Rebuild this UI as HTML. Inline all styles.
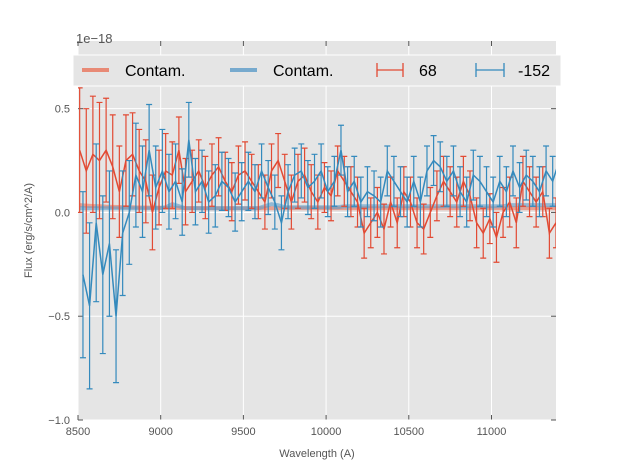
<!DOCTYPE html>
<html><head><meta charset="utf-8"><style>
body{margin:0;background:#fff;}
svg{display:block;font-family:"Liberation Sans",sans-serif;}
</style></head><body>
<svg id="chart" width="617" height="467"></svg>
<script>
const xStart = 8510, xStep = 40;
const redVals = [0.30,0.20,0.28,0.25,0.30,0.22,0.10,0.25,0.28,0.20,0.15,0.00,0.12,0.20,0.18,0.30,0.10,0.15,0.20,0.12,0.18,0.22,0.15,0.10,0.18,0.20,0.15,0.10,0.05,0.20,0.25,0.15,0.05,0.15,0.18,0.10,0.05,0.12,0.08,0.20,0.15,0.10,0.05,-0.10,-0.05,0.00,-0.08,0.05,-0.05,0.10,0.05,-0.05,-0.08,0.00,0.08,0.15,0.10,0.05,0.15,0.08,-0.05,-0.10,-0.03,-0.12,0.00,0.05,-0.05,0.15,0.10,0.05,0.10,-0.10,-0.05];
const redErr = [0.30,0.30,0.28,0.28,0.25,0.25,0.22,0.22,0.20,0.20,0.20,0.18,0.18,0.18,0.16,0.16,0.16,0.15,0.15,0.15,0.15,0.14,0.14,0.14,0.14,0.14,0.13,0.13,0.13,0.13,0.13,0.13,0.13,0.13,0.13,0.13,0.13,0.12,0.12,0.12,0.12,0.12,0.12,0.12,0.12,0.12,0.12,0.12,0.12,0.12,0.12,0.12,0.12,0.12,0.12,0.12,0.12,0.12,0.12,0.12,0.12,0.12,0.12,0.12,0.12,0.12,0.12,0.12,0.12,0.12,0.12,0.12,0.12];
const blueVals = [-0.30,-0.45,-0.05,-0.30,-0.15,-0.50,-0.10,0.00,0.18,0.10,0.30,0.12,0.20,0.10,0.15,0.05,0.35,0.10,0.15,0.05,0.08,0.15,0.12,0.05,0.10,0.15,0.10,0.20,0.12,0.05,-0.05,0.10,0.18,0.20,0.12,0.15,0.20,0.10,0.15,0.30,0.10,0.15,0.05,0.10,0.08,0.05,0.20,0.15,0.10,0.05,0.15,0.05,0.20,0.25,0.22,0.15,0.20,0.10,0.05,0.18,0.15,0.10,0.05,0.15,0.10,0.20,0.12,0.18,0.15,0.10,0.20,0.15,0.25];
const blueErr = [0.40,0.40,0.38,0.38,0.35,0.32,0.30,0.25,0.25,0.22,0.22,0.20,0.20,0.18,0.18,0.16,0.18,0.16,0.15,0.15,0.15,0.14,0.14,0.14,0.14,0.14,0.13,0.13,0.13,0.13,0.13,0.13,0.13,0.13,0.13,0.13,0.13,0.12,0.12,0.12,0.12,0.12,0.12,0.12,0.12,0.12,0.12,0.12,0.12,0.12,0.12,0.12,0.12,0.12,0.12,0.12,0.12,0.12,0.12,0.12,0.12,0.12,0.12,0.12,0.12,0.12,0.12,0.12,0.12,0.12,0.12,0.12,0.12];
const redContam = [0.035,0.033,0.031,0.030,0.028,0.027,0.026,0.025,0.025,0.024,0.024,0.023,0.023,0.022,0.022,0.022,0.021,0.021,0.021,0.020,0.020,0.020,0.020,0.020,0.020,0.020,0.020,0.020,0.020,0.020,0.020,0.020,0.020,0.020,0.020,0.020,0.020,0.020,0.020,0.020,0.020,0.020,0.020,0.020,0.020,0.020,0.020,0.020,0.020,0.020,0.020,0.020,0.020,0.020,0.020,0.020,0.020,0.020,0.020,0.020,0.020,0.020,0.020,0.020,0.020,0.020,0.020,0.020,0.020,0.020,0.020,0.020,0.020];
const blueContam = [0.020,0.020,0.020,0.020,0.020,0.020,0.020,0.020,0.020,0.020,0.020,0.020,0.020,0.025,0.040,0.030,0.020,0.020,0.020,0.020,0.020,0.020,0.020,0.020,0.020,0.020,0.020,0.020,0.030,0.040,0.035,0.025,0.025,0.025,0.025,0.025,0.025,0.025,0.025,0.025,0.030,0.030,0.030,0.030,0.030,0.030,0.030,0.030,0.030,0.030,0.030,0.030,0.030,0.030,0.030,0.030,0.030,0.030,0.030,0.030,0.030,0.030,0.030,0.030,0.030,0.035,0.035,0.035,0.035,0.035,0.035,0.035,0.035];
const xTicks = [8500,9000,9500,10000,10500,11000];
const yTicks = [-1.0,-0.5,0.0,0.5];

const NS="http://www.w3.org/2000/svg";
const svg=document.getElementById('chart');
const L=78,R=556,T=41,B=420;
const X0=8500,X1=11390,Y0=-1.0,Y1=0.826;
const sx=v=>L+(v-X0)/(X1-X0)*(R-L);
const sy=v=>B-(v-Y0)/(Y1-Y0)*(B-T);
function el(tag,attrs,parent){const e=document.createElementNS(NS,tag);for(const k in attrs)e.setAttribute(k,attrs[k]);(parent||svg).appendChild(e);return e;}

const bg=el('rect',{x:L,y:T,width:R-L,height:B-T,fill:'#e5e5e5'});


const clip=el('clipPath',{id:'cp'});el('rect',{x:L,y:T,width:R-L,height:B-T},clip);

xTicks.forEach(t=>{
  const g=el('line',{x1:sx(t),x2:sx(t),y1:T,y2:B,stroke:'#fff','stroke-width':1});
  
  
  el('line',{x1:sx(t),x2:sx(t),y1:B,y2:B-5,stroke:'#555'});
  el('line',{x1:sx(t),x2:sx(t),y1:T,y2:T+5,stroke:'#555'});
  const tx=el('text',{x:sx(t),y:B+15,'text-anchor':'middle','font-size':11,fill:'#555'});
  tx.textContent=t;
  
  
});
yTicks.forEach(t=>{
  const g=el('line',{x1:L,x2:R,y1:sy(t),y2:sy(t),stroke:'#fff','stroke-width':1});
  
  
  el('line',{x1:L,x2:L+5,y1:sy(t),y2:sy(t),stroke:'#555'});
  el('line',{x1:R,x2:R-5,y1:sy(t),y2:sy(t),stroke:'#555'});
  const tx=el('text',{x:L-8,y:sy(t)+4,'text-anchor':'end','font-size':11,fill:'#555'});
  tx.textContent=t.toFixed(1).replace('-','\u2212');
  
  
});

const plot=el('g',{'clip-path':'url(#cp)'});


function contam(arr,col,name){
  const p=el('polyline',{points:arr.map((v,i)=>sx(xStart+i*xStep)+','+sy(v)).join(' '),fill:'none',stroke:col,'stroke-width':4,'stroke-opacity':0.6},plot);
  
  
}
function series(vals,errs,col,name,off){
  const g=el('g',{},plot);
  
  
  vals.forEach((v,i)=>{
    const x=sx(xStart+off+i*xStep),y1=sy(v-errs[i]),y2=sy(v+errs[i]);
    const e=el('path',{d:`M${x},${y1}V${y2}M${x-3},${y1}H${x+3}M${x-3},${y2}H${x+3}`,stroke:col,'stroke-width':1.2,fill:'none'},g);
    
    
  });
  el('polyline',{points:vals.map((v,i)=>sx(xStart+off+i*xStep)+','+sy(v)).join(' '),fill:'none',stroke:col,'stroke-width':1.5},g);
}
contam(redContam,'#e8735a','red-contam-line');
contam(blueContam,'#5b9bc8','blue-contam-line');
series(redVals,redErr,'#e24a33','red-series-68',0);
series(blueVals,blueErr,'#348abd','blue-series-152',20);

const ex=el('text',{x:76,y:43,'font-size':13,fill:'#555'});ex.textContent='1e\u221218';


const xl=el('text',{x:(L+R)/2,y:457,'text-anchor':'middle','font-size':11,fill:'#555'});xl.textContent='Wavelength (A)';


const yl=el('text',{x:0,y:0,'text-anchor':'middle','font-size':11,fill:'#555',transform:`translate(32,${(T+B)/2}) rotate(-90)`});yl.textContent='Flux (erg/s/cm^2/A)';



const lg=el('g',{});


el('rect',{x:73,y:55,width:488,height:31,fill:'#e5e5e5',stroke:'#fff','stroke-width':1},lg);
el('line',{x1:82,x2:109,y1:70,y2:70,stroke:'#e8735a','stroke-width':4,'stroke-opacity':0.8},lg);
el('line',{x1:230,x2:257,y1:70,y2:70,stroke:'#5b9bc8','stroke-width':4,'stroke-opacity':0.8},lg);
el('path',{d:'M377,70H403M377,63V77M403,63V77',stroke:'#e24a33','stroke-width':1.3,fill:'none'},lg);
el('path',{d:'M476,70H504M476,63V77M504,63V77',stroke:'#348abd','stroke-width':1.3,fill:'none'},lg);
[['Contam.',125,'legend-entry-red-contam'],['Contam.',273,'legend-entry-blue-contam'],['68',419,'legend-entry-68'],['-152',518,'legend-entry-152']].forEach(([t,x,n])=>{
  const tx=el('text',{x:x,y:76,'font-size':16,fill:'#000'},lg);tx.textContent=t;
  
  
});
</script>
</body></html>
